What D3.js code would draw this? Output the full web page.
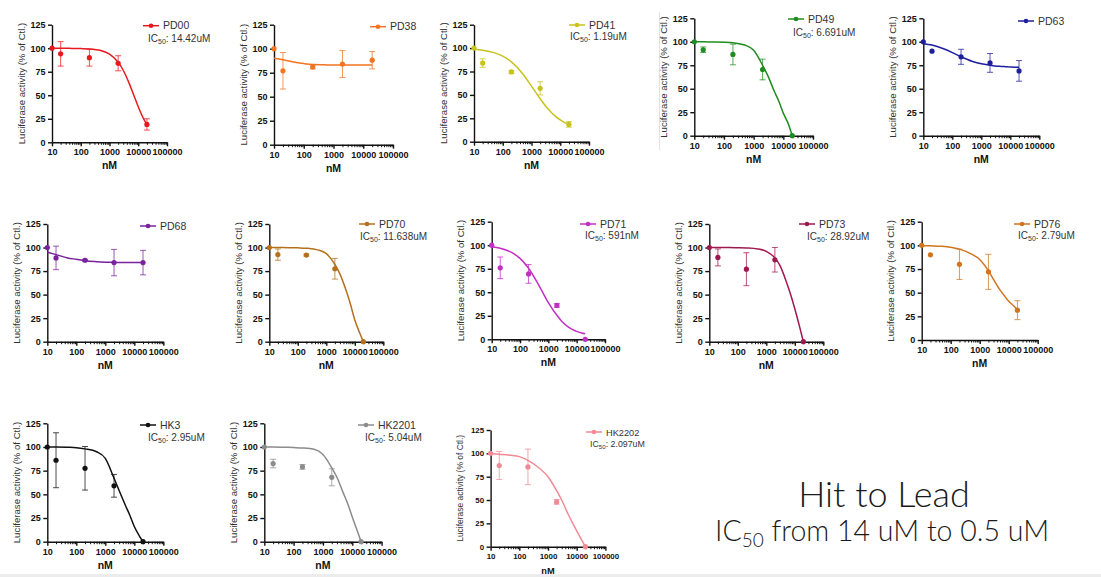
<!DOCTYPE html>
<html><head><meta charset="utf-8">
<script src="https://cdn.jsdelivr.net/npm/d3@7"></script>
<style>
body{margin:0;background:#fff;}
svg{display:block;font-family:"Liberation Sans",Arial,sans-serif;}
</style>
</head><body>
<svg id="chart" width="1101" height="577"></svg>
<script>
// ---------- data ----------
const compounds = ["PD00","PD38","PD41","PD49","PD63","PD68","PD70","PD71","PD73","PD76","HK3","HK2201","HK2202"];
const ic50Labels = ["14.42uM", null, "1.19uM", "6.691uM", null, null, "11.638uM", "591nM", "28.92uM", "2.79uM", "2.95uM", "5.04uM", "2.097uM"];
const concentrations = [10, 20, 200, 2000, 20000];
const meanActivity = [
  [100, 94, 90, 84, 19],
  [100, 77, 81, 84, 88],
  [100, 84, 74.5, 57, 18.5],
  [100, 91.5, 86.5, 70.5, 0],
  [100, 90, 84, 77.5, 69],
  [100, 89, 86.5, 84, 84],
  [100, 92.5, 92, 77.5, 0],
  [100, 76, 69.5, 36, 0],
  [100, 89.5, 77, 87, 0],
  [100, 90, 80, 72, 31.5],
  [100, 86, 77.5, 59, 0],
  [100, 82.5, 79, 68, 0],
  [100, 87, 85.5, 48, 0]
];
const errorActivity = [
  [0, 13, 9, 8, 6],
  [0, 19, 2, 14, 9],
  [0, 4.5, 1.5, 7, 3],
  [0, 3, 11, 11, 0],
  [0, 0, 8, 10, 11],
  [0, 12.5, 1, 14, 13],
  [0, 6, 1, 11, 0],
  [0, 11.5, 10, 2, 0],
  [0, 9, 17.5, 13, 0],
  [0, 0, 16, 18.5, 10],
  [0, 29, 23, 12, 0],
  [0, 4.5, 2.5, 9, 0],
  [0, 15, 19, 2.5, 0]
];
const curveConcentrations = [10, 20, 50, 100, 200, 500, 1000, 2000, 3000, 5000, 7000, 10000, 15000, 20000];
const curveActivity = [
  [100, 100, 99.8, 99.6, 99.3, 97.6, 93.8, 85.2, 76.6, 61.6, 50, 37.8, 25.6, 18.7],
  [90, 88.5, 86, 84.5, 83.5, 83.2, 83, 83, 83, 83, 83, 83, 83, 83],
  [98.8, 97.8, 95.2, 91.4, 85.3, 72.4, 59.4, 45.9, 38.7, 31, 26.8, 23.3, 20.2, 18.4],
  [100, 99.9, 99.8, 99.6, 99, 96.5, 91, 75, 64, 47, 37, 24, 12, 0],
  [98, 96.5, 92.5, 88.5, 84, 79, 76.5, 75, 74.3, 73.8, 73.5, 73.2, 73, 73],
  [95, 92.5, 89, 87.5, 86, 85, 84.5, 84.2, 84, 84, 84, 84, 84, 84],
  [100, 100, 99.9, 99.7, 99.3, 97.5, 93.5, 82, 72, 54, 40, 23, 9, 0],
  [98.4, 96.8, 92.4, 86, 75.5, 55.5, 39, 25.5, 19, 13.3, 10.6, 8.4, 6.7, 5.8],
  [100, 100, 100, 99.8, 99.5, 98.5, 96, 89, 81, 64, 51, 35, 15, 0],
  [99.7, 99.5, 99, 98, 96, 91, 85, 73, 64, 53, 47, 41, 36, 32],
  [100, 100, 99.7, 99.3, 98, 95, 88, 67, 54, 38, 28, 16, 6, 0],
  [100, 100, 99.7, 99.4, 99, 97.5, 92, 78, 68, 51, 40, 26, 11, 0],
  [99.5, 99, 98, 96.5, 92.5, 84, 75, 60, 50, 35, 26, 17, 7, 0]
];
const yTickValues = [0, 25, 50, 75, 100, 125];
const xTickValues = [10, 100, 1000, 10000, 100000];
const xTickLabels = ["10", "100", "1000", "10000", "100000"];
const yAxisTitle = "Luciferase activity (% of Ctl.)";
const xAxisTitle = "nM";
const headline = "Hit to Lead";

// ---------- styles / layout ----------
const seriesColors = ["#e8191e","#f47321","#c8c21c","#1e8c1e","#1f1f9e","#7a219e","#b5701e","#c42ec4","#a01850","#d0741e","#111111","#8c8c8c","#f28a96"];
// [x at 10, x at 100000, y at 125, y at 0, font scale]
const panelFrames = [
  [52, 167, 24.7, 142.3, 1],
  [274, 393, 24.7, 144.7, 1],
  [474, 589, 24.7, 141.7, 1],
  [694.3, 813, 18.3, 135.7, 1],
  [923.3, 1039.3, 18.3, 135.7, 1],
  [47.3, 163.3, 224, 341.7, 1],
  [269.3, 383.3, 224, 341.7, 1],
  [491.7, 605, 221.7, 339.3, 1],
  [709.3, 823.3, 224, 341.7, 1],
  [921.7, 1037.7, 221.7, 340, 1],
  [47.3, 163.3, 423.3, 541.7, 1],
  [264.3, 381.6, 423.3, 541.7, 1],
  [490.6, 605.4, 430, 546.7, 0.88]
];
// [legend line x, legend y, ic50 x, ic50 y]
const legendSpots = [
  [143, 25.7, 148, 38],
  [370, 26.7, 0, 0],
  [569, 25, 570, 36],
  [788, 19, 793, 32],
  [1018, 21, 0, 0],
  [140, 226, 0, 0],
  [359, 224, 360, 236],
  [580, 224, 585, 235],
  [799, 224, 807, 236],
  [1014, 224, 1018, 235],
  [140, 425, 148, 437],
  [358, 425, 365, 437],
  [586, 432, 590, 443]
];

const svg = d3.select("#chart");
svg.append("rect").attr("x",0).attr("y",0).attr("width",1101).attr("height",577).attr("fill","#fff");
svg.append("rect").attr("x",0).attr("y",574).attr("width",1101).attr("height",3).attr("fill","#ececec");
svg.append("line").attr("x1",659.5).attr("x2",659.5).attr("y1",12).attr("y2",150).attr("stroke","#e2e2e2").attr("stroke-width",1);

compounds.forEach((name, i) => {
  const [x0, x1, yTop, y0, fs] = panelFrames[i];
  const color = seriesColors[i];
  const x = d3.scaleLog().domain([10, 100000]).range([x0, x1]);
  const y = d3.scaleLinear().domain([0, 125]).range([y0, yTop]);
  const g = svg.append("g");

  // minor x ticks
  const minor = [];
  for (let d = 10; d < 100000; d *= 10) for (let k = 2; k <= 9; k++) minor.push(d * k);
  g.append("g").attr("transform", `translate(0,${y0})`)
    .call(d3.axisBottom(x).tickValues(minor).tickSize(2.5).tickFormat("").tickSizeOuter(0))
    .call(a => a.select(".domain").remove())
    .call(a => a.selectAll("line").attr("stroke", "#111").attr("stroke-width", 1));

  // x axis
  g.append("g").attr("transform", `translate(0,${y0})`)
    .call(d3.axisBottom(x).tickValues(xTickValues).tickSize(4).tickSizeOuter(0)
      .tickFormat((d, j) => xTickLabels[j]))
    .call(a => a.select(".domain").attr("stroke", "#111").attr("stroke-width", 1.4))
    .call(a => a.selectAll("line").attr("stroke", "#111").attr("stroke-width", 1.4))
    .call(a => a.selectAll("text").attr("font-family", "Liberation Sans, Arial, sans-serif")
      .attr("font-size", 9 * fs).attr("font-weight", "bold").attr("fill", "#111").attr("dy", "0.71em").attr("y", 6.5));

  // y axis
  g.append("g").attr("transform", `translate(${x0},0)`)
    .call(d3.axisLeft(y).tickValues(yTickValues).tickSize(4).tickSizeOuter(0))
    .call(a => a.select(".domain").attr("stroke", "#111").attr("stroke-width", 1.4))
    .call(a => a.selectAll("line").attr("stroke", "#111").attr("stroke-width", 1.4))
    .call(a => a.selectAll("text").attr("font-family", "Liberation Sans, Arial, sans-serif")
      .attr("font-size", 9 * fs).attr("font-weight", "bold").attr("fill", "#111").attr("x", -6.5));

  // axis titles
  g.append("text").attr("x", (x0 + x1) / 2).attr("y", y0 + 27)
    .attr("text-anchor", "middle").attr("font-size", 10.5 * fs).attr("font-weight", "bold").attr("fill", "#111")
    .text(xAxisTitle);
  g.append("text")
    .attr("transform", `translate(${x0 - 30},${(yTop + y0) / 2}) rotate(-90)`)
    .attr("text-anchor", "middle").attr("dominant-baseline", "middle")
    .attr("font-size", 9.6 * fs).attr("fill", "#333")
    .text(yAxisTitle);

  // fitted curve
  const pts = curveConcentrations.map((c, j) => [c, curveActivity[i][j]]);
  g.append("path").datum(pts)
    .attr("fill", "none").attr("stroke", color).attr("stroke-width", 1.5)
    .attr("d", d3.line().x(d => x(d[0])).y(d => y(d[1])).curve(d3.curveMonotoneX));

  // error bars
  const obs = concentrations.map((c, j) => ({c, m: meanActivity[i][j], e: errorActivity[i][j]}));
  const eb = g.append("g").attr("stroke", color).attr("stroke-opacity", 0.75).attr("stroke-width", 1);
  obs.filter(d => d.e > 0).forEach(d => {
    eb.append("line").attr("x1", x(d.c)).attr("x2", x(d.c)).attr("y1", y(d.m - d.e)).attr("y2", y(d.m + d.e));
    eb.append("line").attr("x1", x(d.c) - 3).attr("x2", x(d.c) + 3).attr("y1", y(d.m - d.e)).attr("y2", y(d.m - d.e));
    eb.append("line").attr("x1", x(d.c) - 3).attr("x2", x(d.c) + 3).attr("y1", y(d.m + d.e)).attr("y2", y(d.m + d.e));
  });
  g.selectAll("circle.pt").data(obs).join("circle").attr("class", "pt")
    .attr("cx", d => x(d.c)).attr("cy", d => y(d.m)).attr("r", 2.6).attr("fill", color);

  // legend
  const [lx, ly, ix, iy] = legendSpots[i];
  g.append("line").attr("x1", lx).attr("x2", lx + 16).attr("y1", ly).attr("y2", ly)
    .attr("stroke", color).attr("stroke-width", 1.5);
  g.append("circle").attr("cx", lx + 8).attr("cy", ly).attr("r", 2.3).attr("fill", color);
  g.append("text").attr("x", lx + 20).attr("y", ly + 3.6).attr("font-size", 10.5 * fs).attr("fill", "#333").text(name);
  if (ic50Labels[i]) {
    const t = g.append("text").attr("x", ix).attr("y", iy + 3.6).attr("font-size", 10 * fs).attr("fill", "#333");
    t.append("tspan").text("IC");
    t.append("tspan").attr("font-size", 7 * fs).attr("dy", 2.5).text("50");
    t.append("tspan").attr("dy", -2.5).text(": " + ic50Labels[i]);
  }
});

// headline
svg.append("text").attr("x", 884).attr("y", 507).attr("text-anchor", "middle")
  .attr("font-family", "Lato, Open Sans, sans-serif").attr("font-weight", 300)
  .attr("font-size", 36).attr("fill", "#1a1a1a").text(headline);
const sub = svg.append("text").attr("x", 882).attr("y", 541).attr("text-anchor", "middle")
  .attr("font-family", "Lato, Open Sans, sans-serif").attr("font-weight", 300)
  .attr("font-size", 28.5).attr("fill", "#1a1a1a");
sub.append("tspan").text("IC");
sub.append("tspan").attr("font-size", 19).attr("dy", 6).text("50");
sub.append("tspan").attr("dy", -6).text(" from 14 uM to 0.5 uM");
</script>
</body></html>
